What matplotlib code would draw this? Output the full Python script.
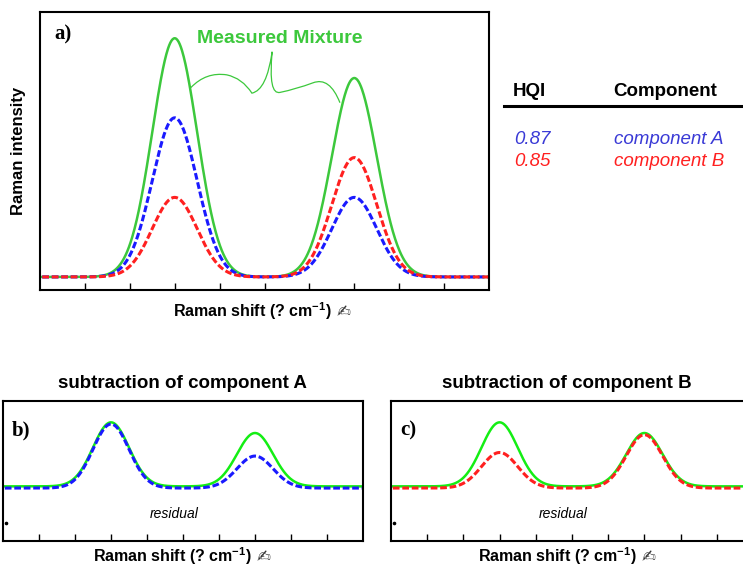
import numpy as np
import matplotlib
matplotlib.use("Agg")
import matplotlib.pyplot as plt
from matplotlib.path import Path
from matplotlib.patches import PathPatch
from matplotlib.text import Annotation

plt.rcParams['font.family'] = ['Liberation Sans', 'DejaVu Sans']
plt.rcParams['mathtext.fontset'] = 'custom'
plt.rcParams['mathtext.rm'] = 'Liberation Sans'
plt.rcParams['mathtext.bf'] = 'Liberation Sans:bold'

# ---------------- data ----------------
peak_centers = [3.0, 7.0]          # Raman shift positions (tick units)
peak_sigma = [0.5, 0.5]            # peak widths
heights_A = [2.0, 1.0]             # component A
heights_B = [1.0, 1.5]             # component B
scale_A_fit = 1.5                  # A scaled to match mixture in panel b
scale_B_fit = 5.0 / 3.0            # B scaled to match mixture in panel c
hqi_values = ["0.87", "0.85"]
component_names = ["component A", "component B"]

x = np.linspace(0.05, 10, 800)

def spectrum(heights):
    y = np.zeros_like(x)
    for c, s, h in zip(peak_centers, peak_sigma, heights):
        y += h * np.exp(-0.5 * ((x - c) / s) ** 2)
    return y

A = spectrum(heights_A)
B = spectrum(heights_B)
M = A + B

W, H = 743, 568
fig = plt.figure(figsize=(W / 100, H / 100), dpi=100)

def rect(l, t, r, b):
    return [l / W, 1 - b / H, (r - l) / W, (b - t) / H]

def px(xp, yp):
    return xp / W, 1 - yp / H

GREEN_A = '#3cc83c'
GREEN_BC = '#14ee14'
BLUE = '#1a1aff'
RED = '#ff2020'
dash = (0, (2.2, 0.9))
xlabel = 'Raman shift (? cm$^{\\mathbf{-1}}$)'

def style(ax, ylim):
    ax.set_xlim(0, 10)
    ax.set_ylim(*ylim)
    ax.set_xticks(np.arange(1, 10))
    ax.set_xticklabels([])
    ax.set_yticks([])
    ax.tick_params(axis='x', direction='in', length=5, width=1, bottom=True, top=False)
    for sp in ax.spines.values():
        sp.set_linewidth(1.5)

def add_xlabel(cx, cy):
    t = fig.text(*px(cx - 10, cy), xlabel, ha='center', va='center', fontsize=11.5,
                 fontweight='bold')
    fig.add_artist(Annotation('✍', xy=(1, 0.42), xycoords=t,
                   xytext=(4, 0), textcoords='offset points', ha='left', va='center',
                   fontsize=12, family='DejaVu Sans', color='#333333'))

# ---------------- panel a ----------------
axa = fig.add_axes(rect(40, 12, 489, 290))
axa.plot(x, M, color=GREEN_A, lw=1.8)
axa.plot(x, A, color=BLUE, lw=2.2, ls=dash)
axa.plot(x, B, color=RED, lw=2.2, ls=dash)
style(axa, (-0.164, 3.33))
axa.set_ylabel('Raman intensity', fontsize=12, fontweight='bold', labelpad=10)
axa.text(0.033, 0.955, 'a)', transform=axa.transAxes, family='Liberation Serif',
         fontweight='bold', fontsize=15, va='top', ha='left')
axa.text(0.534, 0.906, 'Measured Mixture', transform=axa.transAxes, color=GREEN_A,
         fontweight='bold', fontsize=14, ha='center', va='center')
verts = [(3.36, 2.38), (3.7, 2.58), (4.16, 2.54),
         (4.5, 2.5), (4.72, 2.31),
         (5.05, 2.35), (5.17, 2.83),
         (5.08, 2.28), (5.35, 2.32),
         (5.7, 2.36), (6.08, 2.44),
         (6.45, 2.52), (6.68, 2.19)]
codes = [Path.MOVETO] + [Path.CURVE3] * 12
axa.add_patch(PathPatch(Path(verts, codes), fill=False, edgecolor=GREEN_A, lw=0.9))
add_xlabel(262, 311)

# ---------------- HQI table ----------------
fig.text(*px(513, 92), 'HQI', fontsize=13.5, fontweight='bold', va='center', ha='left')
fig.text(*px(613, 92), 'Component', fontsize=13.5, fontweight='bold', va='center', ha='left')
fig.add_artist(plt.Line2D([504 / W, 1.0], [1 - 106 / H] * 2, color='black', lw=2.2))
for i, (hq, nm, col) in enumerate(zip(hqi_values, component_names, ['#3a3ad6', RED])):
    yy = 140 + 22 * i
    fig.text(*px(514, yy), hq, fontsize=13.5, style='italic', color=col, va='center', ha='left')
    fig.text(*px(614, yy), nm, fontsize=13.5, style='italic', color=col, va='center', ha='left')

# ---------------- panels b and c ----------------
panels = [
    (rect(3, 401, 363, 541), A * scale_A_fit, BLUE, 'b)', 'subtraction of component A', 182),
    (rect(391, 401, 753, 541), B * scale_B_fit, RED, 'c)', 'subtraction of component B', 567),
]
for pos, comp, col, lab, title, cx in panels:
    ax = fig.add_axes(pos)
    ax.plot(x, M, color=GREEN_BC, lw=1.8)
    ax.plot(x, comp - 0.08, color=col, lw=2.2, ls=dash)
    style(ax, (-2.56, 4.0))
    ax.text(0.025, 0.86, lab, transform=ax.transAxes, family='Liberation Serif',
            fontweight='bold', fontsize=15, va='top', ha='left')
    ax.text(0.475, 0.195, 'residual', transform=ax.transAxes, style='italic', fontsize=10,
            ha='center', va='center')
    ax.plot([0.09], [-1.7], marker='o', ms=1.6, color='black')
    fig.text(*px(cx, 384), title, ha='center', va='center', fontsize=13.5, fontweight='bold')
    add_xlabel(cx, 556)

fig.savefig('out.png', dpi=100)
